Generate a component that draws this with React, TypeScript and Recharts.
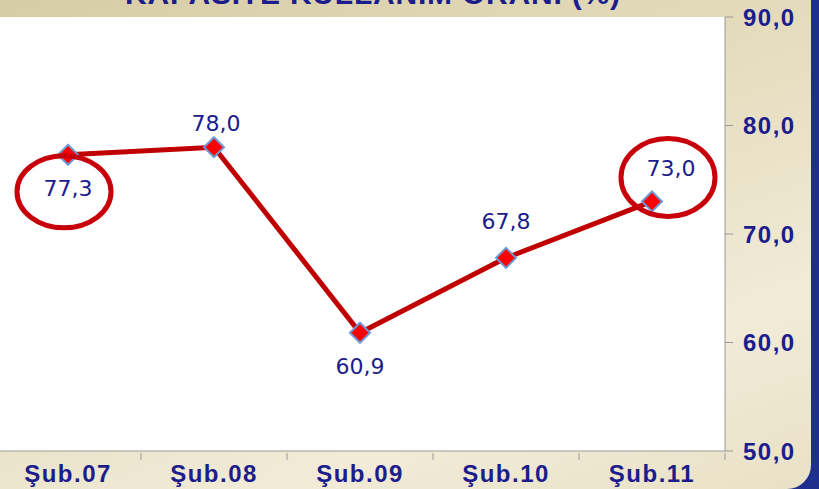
import React from 'react';
import {
  LineChart,
  Line,
  XAxis,
  YAxis,
  CartesianGrid,
  LabelList,
  ReferenceDot,
} from 'recharts';

const months = ['Şub.07', 'Şub.08', 'Şub.09', 'Şub.10', 'Şub.11'];
const rates = [77.3, 78.0, 60.9, 67.8, 73.0];
const yTicks = [50, 60, 70, 80, 90];
const circled = ['Şub.07', 'Şub.11'];
const title = 'KAPASİTE KULLANIM ORANI (%)';

const data = months.map((m, i) => ({ month: m, rate: rates[i] }));

const NAVY = '#1c1c8c';
const fmt = (v: number) => v.toFixed(1).replace('.', ',');
const BAND = 730 / months.length;

// where each value label sits relative to its point
const labelShift = [
  { dx: 0, dy: 34 },
  { dx: 2, dy: -24 },
  { dx: 0, dy: 34 },
  { dx: 0, dy: -36 },
  { dx: 19, dy: -33 },
];
const ringShift = [
  { dx: -4, dy: 37, rx: 47, ry: 36 },
  { dx: 16, dy: -24, rx: 47, ry: 39 },
];

function Diamond(props: any) {
  const { cx, cy } = props;
  if (cx == null || cy == null) return null;
  const s = 10;
  return (
    <path
      d={`M${cx},${cy - s} L${cx + s},${cy} L${cx},${cy + s} L${cx - s},${cy} Z`}
      fill='#ff0000'
      stroke='#6c98d4'
      strokeWidth={2}
    />
  );
}

function ValueLabel(props: any) {
  const { x, y, value, index } = props;
  const sh = labelShift[index] || { dx: 0, dy: -24 };
  return (
    <text
      x={x + sh.dx}
      y={y + sh.dy}
      textAnchor='middle'
      dominantBaseline='central'
      fill={NAVY}
      fontSize={22}
      fontFamily='DejaVu Sans, sans-serif'
    >
      {fmt(value)}
    </text>
  );
}

function XTick(props: any) {
  const { x, y, payload } = props;
  const half = BAND / 2;
  return (
    <g>
      <line x1={x + half} y1={y} x2={x + half} y2={y + 7} stroke='#9a9a9a' />
      <text
        x={x}
        y={y + 29}
        textAnchor='middle'
        fill={NAVY}
        fontSize={24}
        fontWeight='bold'
        letterSpacing={1.5}
        fontFamily='Liberation Sans, Arial, sans-serif'
      >
        {payload.value}
      </text>
    </g>
  );
}

function Ring(i: number) {
  return (props: any) => {
    const { cx, cy } = props;
    const r = ringShift[i];
    return (
      <ellipse
        cx={cx + r.dx}
        cy={cy + r.dy}
        rx={r.rx}
        ry={r.ry}
        fill='none'
        stroke='#c8000a'
        strokeWidth={5}
      />
    );
  };
}

export default function App() {
  return (
    <div
      style={{
        position: 'fixed',
        left: 0,
        top: 0,
        width: 819,
        height: 489,
        background: '#1f2f8f',
        overflow: 'hidden',
      }}
    >
      <div
        style={{
          position: 'absolute',
          left: 0,
          top: 0,
          width: 811,
          height: 489,
          borderBottomRightRadius: 24,
          background: 'linear-gradient(160deg, #d7cca4 0%, #e4dcbd 40%, #f1ebd8 75%, #e9e1c6 100%)',
          overflow: 'hidden',
        }}
      >
        <svg
          width={811}
          height={20}
          style={{ position: 'absolute', left: 0, top: 0 }}
        >
          <text
            x={125}
            y={4}
            textLength={495}
            fill={NAVY}
            fontSize={30}
            fontWeight='bold'
            fontFamily='Liberation Sans, Arial, sans-serif'
          >
            {title}
          </text>
        </svg>
        <LineChart
          width={819}
          height={489}
          data={data}
          margin={{ top: 17, right: 0, bottom: 0, left: -5 }}
        >
          <CartesianGrid fill='#ffffff' stroke='none' />
          <XAxis
            dataKey='month'
            height={38}
            padding={{ left: BAND / 2, right: BAND / 2 }}
            axisLine={{ stroke: '#9a9a9a' }}
            tickLine={false}
            tickSize={0}
            tick={<XTick />}
            interval={0}
          />
          <YAxis
            orientation='right'
            width={94}
            domain={[50, 90]}
            ticks={yTicks}
            tickFormatter={fmt}
            axisLine={{ stroke: '#9a9a9a' }}
            tickLine={{ stroke: '#9a9a9a' }}
            tickSize={8}
            tickMargin={10}
            tick={{
              fill: NAVY,
              fontSize: 24,
              fontWeight: 'bold',
              letterSpacing: 1.5,
              fontFamily: 'Liberation Sans, Arial, sans-serif',
            }}
          />
          <Line
            type='linear'
            dataKey='rate'
            stroke='#c00000'
            strokeWidth={5}
            dot={<Diamond />}
            activeDot={false}
            isAnimationActive={false}
          >
            <LabelList dataKey='rate' content={<ValueLabel />} />
          </Line>
          {circled.map((m, i) => (
            <ReferenceDot
              key={m}
              x={m}
              y={rates[months.indexOf(m)]}
              ifOverflow='visible'
              shape={Ring(i)}
            />
          ))}
        </LineChart>
      </div>
    </div>
  );
}
